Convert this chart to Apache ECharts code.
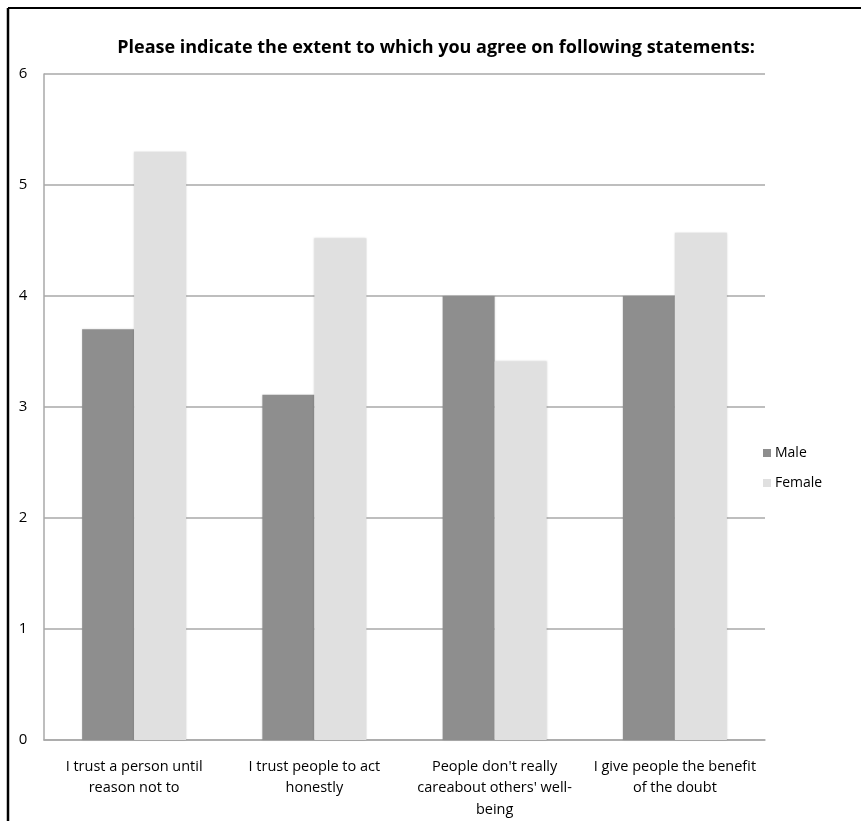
<!DOCTYPE html>
<html>
<head>
<meta charset="utf-8">
<script src="https://cdn.jsdelivr.net/npm/echarts@6/dist/echarts.min.js"></script>
<style>
  html, body { margin: 0; padding: 0; background: #fff; }
  #chart { width: 861px; height: 821px; }
</style>
</head>
<body>
<div id="chart"></div>
<script>
const categories = [
  'I trust a person until\nreason not to',
  'I trust people to act\nhonestly',
  "People don't really\ncareabout others' well-\nbeing",
  'I give people the benefit\nof the doubt'
];
const maleValues = [3.7, 3.11, 4.0, 4.0];
const femaleValues = [5.3, 4.52, 3.41, 4.57];
const yTicks = [0, 1, 2, 3, 4, 5, 6];

const FONT = '"Open Sans", "Noto Sans", sans-serif';

const chart = echarts.init(document.getElementById('chart'), null, { renderer: 'canvas' });

chart.setOption({
  backgroundColor: '#ffffff',
  animation: false,
  title: {
    text: 'Please indicate the extent to which you agree on following statements:',
    left: 431,
    top: 34,
    textAlign: 'center',
    textStyle: {
      fontFamily: FONT,
      fontWeight: 'bold',
      fontSize: 18,
      color: '#000'
    }
  },
  legend: {
    orient: 'vertical',
    left: 758,
    top: 441,
    itemWidth: 8,
    itemHeight: 8,
    itemGap: 16,
    icon: 'rect',
    textStyle: { fontFamily: FONT, fontSize: 14, color: '#000', padding: [0, 0, 0, -1] },
    data: ['Male', 'Female']
  },
  grid: {
    left: 44,
    right: 861 - 765,
    top: 74,
    bottom: 821 - 740,
    containLabel: false
  },
  xAxis: {
    type: 'category',
    data: categories,
    axisLine: { lineStyle: { color: '#a8a8a8', width: 1.5 } },
    axisTick: { show: false },
    axisLabel: {
      fontFamily: FONT,
      fontSize: 14.5,
      color: '#000',
      lineHeight: 21.5,
      margin: 16,
      interval: 0
    }
  },
  yAxis: {
    type: 'value',
    min: yTicks[0],
    max: yTicks[yTicks.length - 1],
    interval: 1,
    axisLine: { show: true, lineStyle: { color: '#a8a8a8', width: 1.5 } },
    axisTick: { show: false },
    splitLine: { lineStyle: { color: '#a8a8a8', width: 1.5 } },
    axisLabel: {
      fontFamily: FONT,
      fontSize: 15,
      color: '#000',
      margin: 21,
      align: 'center'
    }
  },
  series: [
    {
      name: 'Male',
      type: 'bar',
      data: maleValues,
      barWidth: 52,
      barGap: '0%',
      itemStyle: { color: '#8e8e8e', shadowColor: 'rgba(0,0,0,0.12)', shadowBlur: 2 }
    },
    {
      name: 'Female',
      type: 'bar',
      data: femaleValues,
      barWidth: 52,
      barGap: '0%',
      itemStyle: { color: '#e0e0e0', shadowColor: 'rgba(0,0,0,0.15)', shadowBlur: 2 }
    }
  ],
  graphic: [
    {
      type: 'line',
      shape: { x1: 8, y1: 8, x2: 861, y2: 8 },
      style: { stroke: '#000', lineWidth: 2 }
    },
    {
      type: 'line',
      shape: { x1: 8, y1: 8, x2: 8, y2: 821 },
      style: { stroke: '#000', lineWidth: 2.5 }
    }
  ]
});
</script>
</body>
</html>
